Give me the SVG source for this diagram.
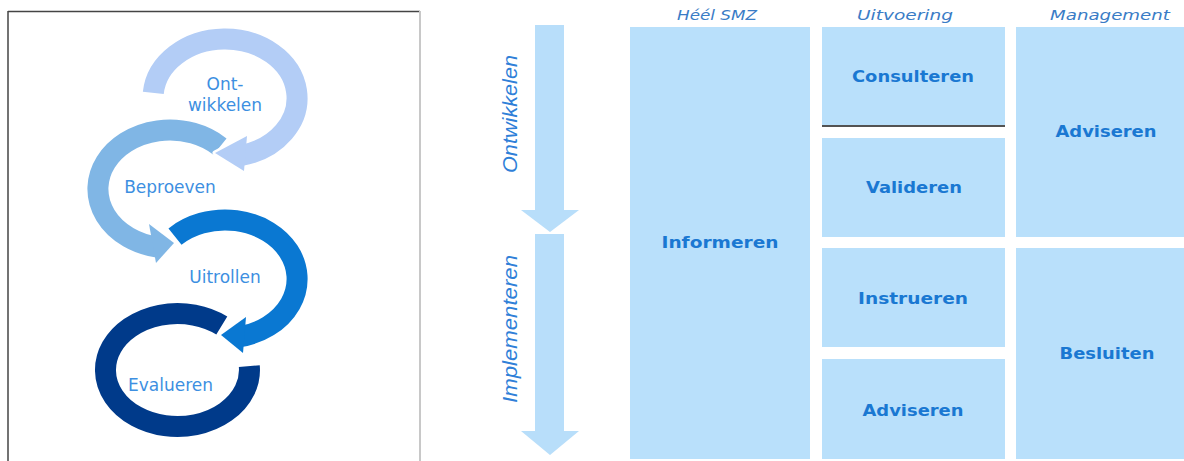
<svg xmlns="http://www.w3.org/2000/svg" width="1184" height="461" viewBox="0 0 1184 461">
  <style>
    .ring { fill: none; stroke-width: 21; stroke-linecap: butt; }
    .halo { fill: #ffffff; stroke: #ffffff; stroke-width: 5; stroke-linejoin: round; }
    .rl { font-family: "DejaVu Sans", Verdana, sans-serif; font-size: 17px; fill: #3d8fe1; text-anchor: middle; }
    .box { fill: #b9e0fb; }
    .bt { font-family: "DejaVu Sans", Verdana, sans-serif; font-size: 16px; font-weight: bold; fill: #1a78d2; text-anchor: middle; }
    .hd { font-family: "DejaVu Sans", Verdana, sans-serif; font-size: 14px; font-style: italic; fill: #3a7cc6; text-anchor: middle; }
    .vl { font-family: "Liberation Sans", Arial, sans-serif; font-size: 20px; font-style: italic; fill: #2f80d8; text-anchor: middle; }
    .varrow { fill: #b8defa; }
  </style>

  <!-- Left panel frame -->
  <g id="frame">
    <line x1="8" y1="11.5" x2="420" y2="11.5" stroke="#444" stroke-width="1.5"/>
    <line x1="8" y1="11" x2="8" y2="461" stroke="#444" stroke-width="1.5"/>
    <line x1="420" y1="11" x2="420" y2="461" stroke="#c8c8c8" stroke-width="2"/>
  </g>

  <!-- Cycle rings -->
  <g id="ring-evalueren">
    <path class="ring" stroke="#003a8a" d="M221.8,325.5 A72,56.5 0 1 0 249.3,366.1"/>
  </g>
  <g id="ring-uitrollen">
    <polygon class="halo" points="246,317 221,335 243,353"/>
    <path class="ring" stroke="#0a78d2" d="M175,236.6 A72,59 0 1 1 240,336.7"/>
    <polygon fill="#0a78d2" points="246,317 221,335 243,353"/>
  </g>
  <g id="ring-beproeven">
    <polygon class="halo" points="149,224 174,243 156,263"/>
    <path class="ring" stroke="#80b6e5" d="M220,146.6 A72,59 0 1 0 157.5,247.1"/>
    <polygon fill="#80b6e5" points="149,224 174,243 156,263"/>
  </g>
  <g id="ring-ontwikkelen">
    <polygon class="halo" points="247,136 215,153 244,171"/>
    <path class="ring" stroke="#b3cdf6" d="M153.3,92.9 A72,59 0 1 1 241.2,155.5"/>
    <polygon fill="#b3cdf6" points="247,136 215,153 244,171"/>
  </g>
  <g id="ring-labels">
    <text class="rl" x="225" y="90">Ont-</text>
    <text class="rl" x="225" y="111">wikkelen</text>
    <text class="rl" x="170" y="193">Beproeven</text>
    <text class="rl" x="225" y="283">Uitrollen</text>
    <text class="rl" x="170.5" y="391">Evalueren</text>
  </g>

  <!-- Vertical phase arrows -->
  <g id="arrow-ontwikkelen">
    <polygon class="varrow" points="535,25 564,25 564,210 579,210 550,232 521,210 535,210"/>
    <text class="vl" transform="translate(517,114) rotate(-90)" textLength="118" lengthAdjust="spacingAndGlyphs">Ontwikkelen</text>
  </g>
  <g id="arrow-implementeren">
    <polygon class="varrow" points="535,234 564,234 564,431 579,431 550,455 521,431 535,431"/>
    <text class="vl" transform="translate(517,329) rotate(-90)" textLength="148" lengthAdjust="spacingAndGlyphs">Implementeren</text>
  </g>

  <!-- Column headers -->
  <g id="headers">
    <text class="hd" x="717" y="20" textLength="80" lengthAdjust="spacingAndGlyphs">Héél SMZ</text>
    <text class="hd" x="905" y="20" textLength="96" lengthAdjust="spacingAndGlyphs">Uitvoering</text>
    <text class="hd" x="1110" y="20" textLength="120" lengthAdjust="spacingAndGlyphs">Management</text>
  </g>

  <!-- Matrix boxes -->
  <g id="box-informeren">
    <rect class="box" x="630" y="27" width="180" height="432"/>
    <text class="bt" x="720" y="248" textLength="117" lengthAdjust="spacingAndGlyphs">Informeren</text>
  </g>
  <g id="box-consulteren">
    <rect class="box" x="822" y="27" width="183" height="98"/>
    <text class="bt" x="913" y="82" textLength="122" lengthAdjust="spacingAndGlyphs">Consulteren</text>
  </g>
  <g id="divider">
    <line x1="822" y1="126" x2="1005" y2="126" stroke="#1a1a1a" stroke-width="1.5"/>
  </g>
  <g id="box-valideren">
    <rect class="box" x="822" y="138" width="183" height="99"/>
    <text class="bt" x="914" y="193" textLength="96" lengthAdjust="spacingAndGlyphs">Valideren</text>
  </g>
  <g id="box-instrueren">
    <rect class="box" x="822" y="248" width="183" height="99"/>
    <text class="bt" x="913" y="304" textLength="110" lengthAdjust="spacingAndGlyphs">Instrueren</text>
  </g>
  <g id="box-adviseren-uitvoering">
    <rect class="box" x="822" y="359" width="183" height="100"/>
    <text class="bt" x="913" y="416" textLength="101" lengthAdjust="spacingAndGlyphs">Adviseren</text>
  </g>
  <g id="box-adviseren-management">
    <rect class="box" x="1016" y="27" width="168" height="210"/>
    <text class="bt" x="1106" y="137" textLength="101" lengthAdjust="spacingAndGlyphs">Adviseren</text>
  </g>
  <g id="box-besluiten">
    <rect class="box" x="1016" y="248" width="168" height="211"/>
    <text class="bt" x="1107" y="359" textLength="95" lengthAdjust="spacingAndGlyphs">Besluiten</text>
  </g>
</svg>
